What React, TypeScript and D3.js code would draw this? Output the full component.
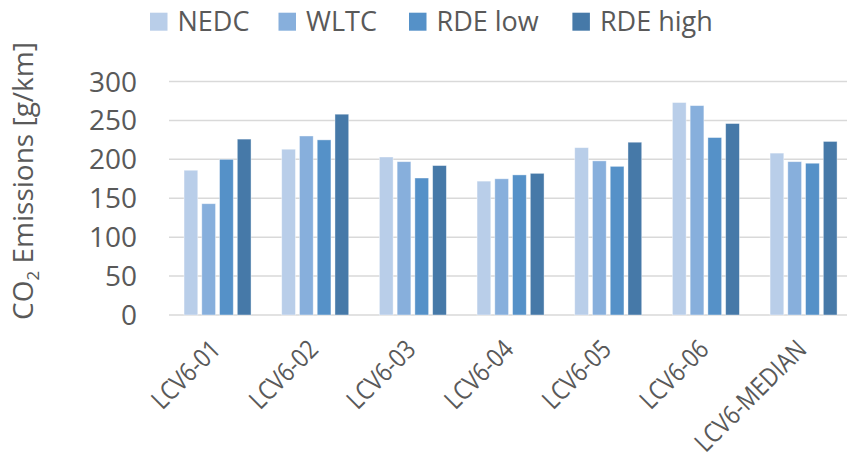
import React from "react";
import * as d3 from "d3";

const categories = ["LCV6-01", "LCV6-02", "LCV6-03", "LCV6-04", "LCV6-05", "LCV6-06", "LCV6-MEDIAN"];
const seriesNames = ["NEDC", "WLTC", "RDE low", "RDE high"];
const nedc = [186, 213, 203, 172, 215, 273, 208];
const wltc = [143, 230, 197, 175, 198, 269, 197];
const rdeLow = [200, 225, 176, 180, 191, 228, 195];
const rdeHigh = [226, 258, 192, 182, 222, 246, 223];
const seriesColors = ["#B9CEE9", "#87AFDC", "#5591C8", "#4679A8"];
const yTicks = [0, 50, 100, 150, 200, 250, 300];

const seriesValues = [nedc, wltc, rdeLow, rdeHigh];

const W = 847;
const H = 458;
const FONT = "'Open Sans', 'Noto Sans', sans-serif";
const TEXT = "#595959";

export default function App() {
  const x = d3
    .scaleBand<string>()
    .domain(categories)
    .range([168.7, 852.4])
    .paddingInner(0.314)
    .paddingOuter(0.157);
  const xi = d3
    .scaleBand<string>()
    .domain(seriesNames)
    .range([0, x.bandwidth()])
    .paddingInner(0.226)
    .paddingOuter(0);
  const y = d3.scaleLinear().domain([0, 300]).range([315, 81.5]);

  const legendX = [150, 278.5, 409, 572.4];

  return (
    <svg
      width={W}
      height={H}
      style={{ position: "absolute", left: 0, top: 0, display: "block", background: "#fff" }}
      fontFamily={FONT}
    >
      {/* gridlines */}
      {yTicks.map((t) => (
        <line
          key={"g" + t}
          x1={169}
          x2={W}
          y1={y(t)}
          y2={y(t)}
          stroke="#D9D9D9"
          strokeWidth={1.5}
        />
      ))}
      {/* y tick labels */}
      {yTicks.map((t) => (
        <text
          key={"t" + t}
          x={137}
          y={y(t)}
          dy="0.36em"
          textAnchor="end"
          fontSize={28}
          fill={TEXT}
        >
          {t}
        </text>
      ))}
      {/* bars */}
      {categories.map((c, ci) => (
        <g key={c} transform={`translate(${x(c)},0)`}>
          {seriesNames.map((s, si) => {
            const v = seriesValues[si][ci];
            return (
              <rect
                key={s}
                x={xi(s)}
                y={y(v)}
                width={xi.bandwidth()}
                height={y(0) - y(v)}
                fill={seriesColors[si]}
                stroke="#ffffff"
                strokeOpacity={0.5}
                strokeWidth={0.8}
              />
            );
          })}
        </g>
      ))}
      {/* x labels */}
      {categories.map((c) => {
        const cx = (x(c) as number) + x.bandwidth() / 2;
        return (
          <text
            key={"xl" + c}
            transform={`translate(${cx + 4.5},351) rotate(-45) scale(0.86,1)`}
            textAnchor="end"
            fontSize={26}
            fill={TEXT}
          >
            {c}
          </text>
        );
      })}
      {/* y axis title */}
      <text
        transform={`translate(33,181) rotate(-90)`}
        textAnchor="middle"
        fontSize={28}
        fill={TEXT}
      >
        CO<tspan fontSize={17} dy={6}>2</tspan>
        <tspan dy={-6}> Emissions [g/km]</tspan>
      </text>
      {/* legend */}
      {seriesNames.map((s, i) => (
        <g key={"lg" + s}>
          <rect x={legendX[i]} y={12.7} width={17.5} height={18} fill={seriesColors[i]} />
          <text x={legendX[i] + 27.5} y={30.5} fontSize={27} fill={TEXT}>
            {s}
          </text>
        </g>
      ))}
    </svg>
  );
}
